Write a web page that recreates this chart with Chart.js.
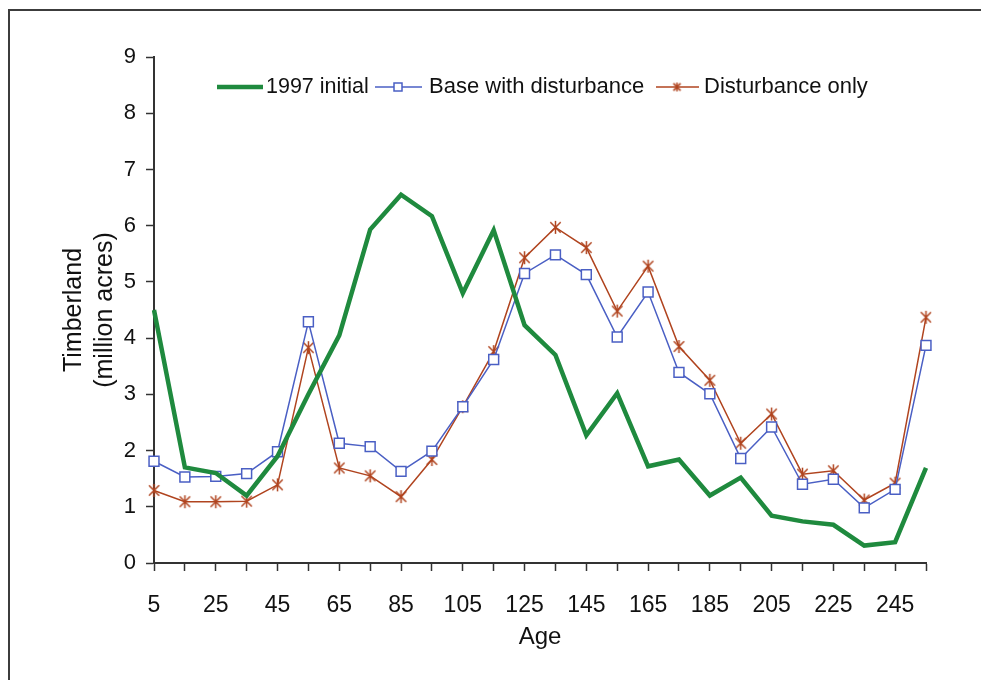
<!DOCTYPE html>
<html>
<head>
<meta charset="utf-8">
<script src="https://cdn.jsdelivr.net/npm/chart.js@4.4.1/dist/chart.umd.min.js"></script>
<style>
  html, body { margin: 0; padding: 0; background: #fff; }
  #wrap { position: relative; width: 981px; height: 680px; }
  #frame { position: absolute; left: 8px; top: 9px; right: 0; bottom: 0;
           border-top: 2px solid #3c3c3c; border-left: 2px solid #3c3c3c; pointer-events: none; }
</style>
</head>
<body>
<div id="wrap">
  <canvas id="timberChart" width="981" height="680"></canvas>
  <div id="frame"></div>
</div>
<script>
// Idade (anos) - categorias do eixo x
const ages = [5, 15, 25, 35, 45, 55, 65, 75, 85, 95, 105, 115, 125, 135, 145, 155, 165, 175, 185, 195, 205, 215, 225, 235, 245, 255];

// Séries (milhões de acres)
const initial1997 = [4.5, 1.7, 1.6, 1.2, 1.9, 3.0, 4.05, 5.93, 6.55, 6.17, 4.8, 5.92, 4.23, 3.7, 2.27, 3.02, 1.72, 1.84, 1.2, 1.52, 0.84, 0.74, 0.68, 0.31, 0.37, 1.69];
const baseWithDisturbance = [1.81, 1.53, 1.54, 1.59, 1.98, 4.29, 2.13, 2.07, 1.63, 1.99, 2.78, 3.62, 5.15, 5.48, 5.13, 4.02, 4.82, 3.39, 3.01, 1.86, 2.42, 1.40, 1.49, 0.98, 1.31, 3.87];
const disturbanceOnly = [1.29, 1.09, 1.09, 1.10, 1.39, 3.83, 1.69, 1.55, 1.18, 1.84, 2.78, 3.76, 5.43, 5.97, 5.61, 4.48, 5.28, 3.85, 3.25, 2.13, 2.65, 1.58, 1.64, 1.12, 1.42, 4.37];

const seriesNames = ['1997 initial', 'Base with disturbance', 'Disturbance only'];
const yTicks = [0, 1, 2, 3, 4, 5, 6, 7, 8, 9];

const GREEN = '#1f8a3e';
const BLUE = '#4a5fc4';
const RED = '#b0441f';
const AXIS = '#333';
const FONT = "'Liberation Sans', Arial, sans-serif";

// Marcador estrela (X + traço vertical), estilo Excel
function makeStar(size, color) {
    const c = document.createElement('canvas');
    c.width = size; c.height = size;
    const g = c.getContext('2d');
    const m = size / 2, r = size / 2 - 1;
    g.strokeStyle = color;
    g.lineWidth = 1.5;
    g.beginPath();
    g.moveTo(m - r * 0.8, m - r * 0.8); g.lineTo(m + r * 0.8, m + r * 0.8);
    g.moveTo(m + r * 0.8, m - r * 0.8); g.lineTo(m - r * 0.8, m + r * 0.8);
    g.moveTo(m, m - r); g.lineTo(m, m + r);
    g.stroke();
    return c;
}
const starBig = makeStar(15, RED);
const starSmall = makeStar(11, RED);

// Legenda desenhada dentro da área do gráfico
const insideLegend = {
    id: 'insideLegend',
    afterDraw(chart) {
        const ctx = chart.ctx;
        const y = 87;
        ctx.save();
        ctx.textBaseline = 'middle';
        ctx.fillStyle = '#111';

        // 1997 initial
        ctx.strokeStyle = GREEN; ctx.lineWidth = 4.5;
        ctx.beginPath(); ctx.moveTo(217, y); ctx.lineTo(263, y); ctx.stroke();
        ctx.font = '21.5px ' + FONT;
        ctx.fillText(seriesNames[0], 266, y);

        // Base with disturbance
        ctx.strokeStyle = BLUE; ctx.lineWidth = 1.5;
        ctx.beginPath(); ctx.moveTo(375, y); ctx.lineTo(422, y); ctx.stroke();
        ctx.fillStyle = '#fff';
        ctx.fillRect(394, y - 4, 8, 8);
        ctx.strokeRect(394, y - 4, 8, 8);
        ctx.fillStyle = '#111';
        ctx.font = '22px ' + FONT;
        ctx.fillText(seriesNames[1], 429, y);

        // Disturbance only
        ctx.strokeStyle = RED; ctx.lineWidth = 1.5;
        ctx.beginPath(); ctx.moveTo(656, y); ctx.lineTo(699, y); ctx.stroke();
        ctx.drawImage(starSmall, 677 - 5.5, y - 5.5);
        ctx.fillText(seriesNames[2], 704, y);
        ctx.restore();
    }
};

const ctx = document.getElementById('timberChart').getContext('2d');
const timberChart = new Chart(ctx, {
    type: 'line',
    data: {
        labels: ages,
        datasets: [
            {
                label: seriesNames[0],
                data: initial1997,
                borderColor: GREEN,
                borderWidth: 4.5,
                pointRadius: 0,
                tension: 0
            },
            {
                label: seriesNames[1],
                data: baseWithDisturbance,
                borderColor: BLUE,
                backgroundColor: '#fff',
                borderWidth: 1.5,
                pointStyle: 'rect',
                pointRadius: 7,
                pointBorderWidth: 1.5,
                tension: 0
            },
            {
                label: seriesNames[2],
                data: disturbanceOnly,
                borderColor: RED,
                borderWidth: 1.5,
                pointStyle: starBig,
                tension: 0
            }
        ]
    },
    options: {
        responsive: false,
        animation: false,
        layout: { padding: { left: 0, right: 55, top: 57, bottom: 0 } },
        plugins: {
            legend: { display: false },
            tooltip: { enabled: false }
        },
        scales: {
            x: {
                type: 'category',
                offset: false,
                afterFit(scale) { scale.height = 117; },
                grid: {
                    offset: false,
                    drawOnChartArea: false,
                    drawTicks: true,
                    tickLength: 8,
                    tickColor: AXIS,
                    tickWidth: 1.5
                },
                border: { color: AXIS, width: 2 },
                ticks: {
                    autoSkip: false,
                    maxRotation: 0,
                    padding: 21,
                    color: '#111',
                    font: { family: FONT, size: 23 },
                    callback: function (value, index) {
                        return index % 2 === 0 ? this.getLabelForValue(value) : '';
                    }
                },
                title: {
                    display: true,
                    text: 'Age',
                    color: '#111',
                    font: { family: FONT, size: 24 },
                    padding: { top: 0, bottom: 28 }
                }
            },
            y: {
                min: yTicks[0],
                max: yTicks[yTicks.length - 1],
                afterFit(scale) { scale.width = 154; },
                afterBuildTicks(scale) { scale.ticks = yTicks.map(v => ({ value: v })); },
                grid: {
                    drawOnChartArea: false,
                    drawTicks: true,
                    tickLength: 8,
                    tickColor: AXIS,
                    tickWidth: 1.5
                },
                border: { color: AXIS, width: 2 },
                ticks: {
                    padding: 10,
                    color: '#111',
                    font: { family: FONT, size: 22 }
                },
                title: {
                    display: true,
                    text: ['Timberland', '(million acres)'],
                    color: '#111',
                    font: { family: FONT, size: 25, lineHeight: 1.24 },
                    padding: { top: 59, bottom: 0 }
                }
            }
        }
    },
    plugins: [insideLegend]
});
</script>
</body>
</html>
